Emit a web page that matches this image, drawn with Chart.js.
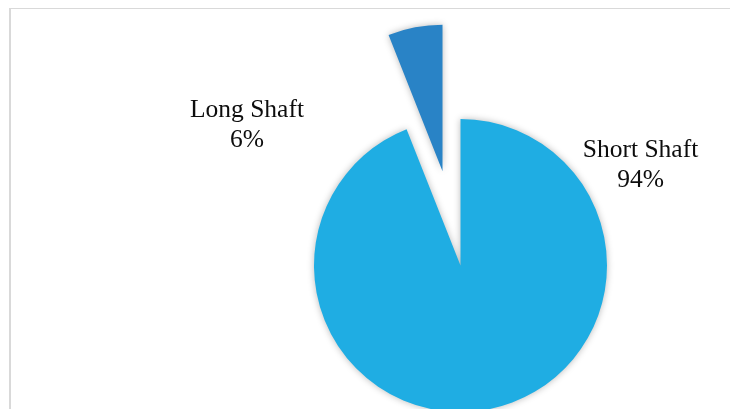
<!DOCTYPE html>
<html lang="en">
<head>
<meta charset="UTF-8" />
<title>Shaft Types</title>
<script src="https://cdn.jsdelivr.net/npm/chart.js"></script>
<style>
  body {
    margin: 0;
    background: #fff;
  }
  .wrap {
    position: relative;
    width: 730px;
    height: 409px;
    overflow: hidden;
  }
  .frame {
    position: absolute;
    left: 9px;
    top: 8px;
    right: -5px;
    bottom: -5px;
    border-left: 2px solid #d9d9d9;
    border-top: 1px solid #d9d9d9;
  }
  canvas {
    position: absolute;
    left: 0;
    top: 0;
  }
</style>
</head>
<body>
<div class="wrap">
  <div class="frame"></div>
  <canvas id="pie" width="730" height="409"></canvas>
</div>

<script>
  const categories = ['Short Shaft', 'Long Shaft'];
  const shares = [94, 6];
  const sliceColors = ['#1FADE3', '#2983C6'];

  // how far the small slice is pulled out, and where each label baseline sits from the pie centre
  const explodeDistance = [0, 96];
  const labelOffsets = [{ x: 180, y: -109 }, { x: -213.5, y: -148.5 }];

  // pull slices out along their middle angle (Chart.js offset also grows the radius)
  const explode = {
    id: 'explode',
    afterDatasetsUpdate(chart) {
      chart.getDatasetMeta(0).data.forEach((arc, i) => {
        const d = explodeDistance[i] || 0;
        if (!d) return;
        const mid = (arc.startAngle + arc.endAngle) / 2;
        arc.x += Math.cos(mid) * d;
        arc.y += Math.sin(mid) * d;
      });
    }
  };

  // soft shadow under the slices
  const softShadow = {
    id: 'softShadow',
    beforeDatasetsDraw(chart) {
      const ctx = chart.ctx;
      ctx.save();
      ctx.shadowColor = 'rgba(0,0,0,0.28)';
      ctx.shadowBlur = 7;
    },
    afterDatasetsDraw(chart) {
      chart.ctx.restore();
    }
  };

  const sliceLabels = {
    id: 'sliceLabels',
    afterDraw(chart) {
      const ctx = chart.ctx;
      const meta = chart.getDatasetMeta(0);
      const base = meta.data[0];
      ctx.save();
      ctx.font = '25.5px "Liberation Serif", "Times New Roman", serif';
      ctx.fillStyle = '#0d0d0d';
      ctx.textAlign = 'center';
      ctx.textBaseline = 'alphabetic';
      categories.forEach((name, i) => {
        const cx = base.x + labelOffsets[i].x;
        const cy = base.y + labelOffsets[i].y;
        ctx.fillText(name, cx, cy);
        ctx.fillText(shares[i] + '%', cx, cy + 30);
      });
      ctx.restore();
    }
  };

  new Chart(document.getElementById('pie'), {
    type: 'pie',
    data: {
      labels: categories,
      datasets: [{
        data: shares,
        backgroundColor: sliceColors,
        borderWidth: 0
      }]
    },
    options: {
      responsive: false,
      animation: false,
      radius: 146.5,
      layout: { padding: { left: 191, top: 122, right: 0, bottom: 0 } },
      plugins: {
        legend: { display: false },
        tooltip: { enabled: false }
      }
    },
    plugins: [explode, softShadow, sliceLabels]
  });
</script>
</body>
</html>
